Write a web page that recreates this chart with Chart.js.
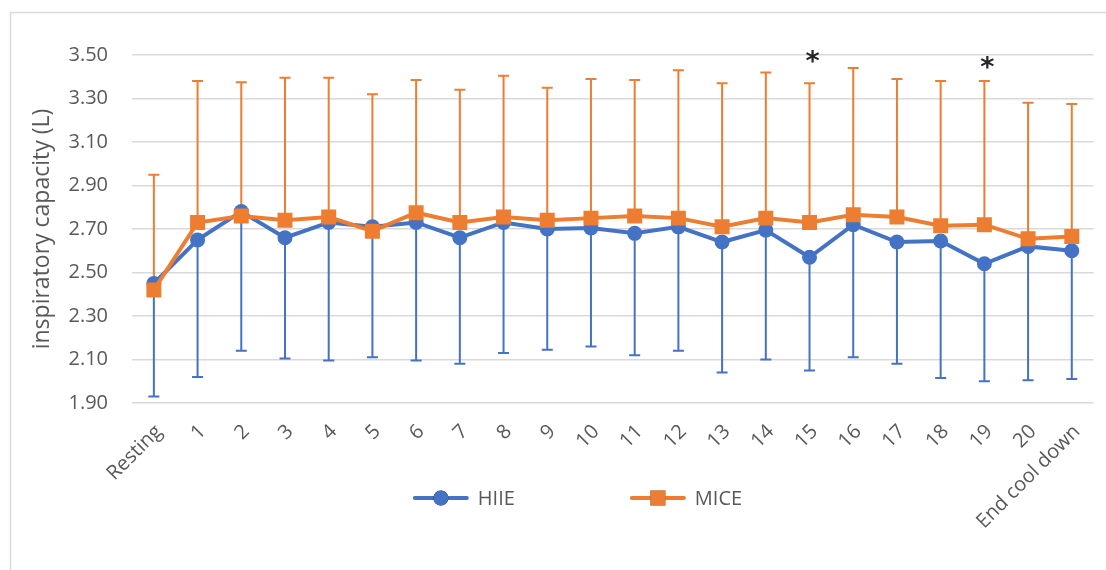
<!DOCTYPE html>
<html>
<head>
<meta charset="utf-8">
<script src="https://cdn.jsdelivr.net/npm/chart.js@4.4.1/dist/chart.umd.min.js"></script>
<style>
  html, body { margin: 0; padding: 0; background: #ffffff; }
  #wrap { width: 1106px; height: 570px; position: relative; }
</style>
</head>
<body>
<div id="wrap"><canvas id="chart" width="1106" height="570"></canvas></div>
<script>
// Time points of the protocol
const categories = ['Resting', '1', '2', '3', '4', '5', '6', '7', '8', '9', '10',
  '11', '12', '13', '14', '15', '16', '17', '18', '19', '20', 'End cool down'];

// HIIE: mean inspiratory capacity (L) and the lower end of its SD bar
const hiieMean  = [2.45, 2.65, 2.78, 2.66, 2.73, 2.71, 2.73, 2.66, 2.73, 2.70, 2.705,
  2.68, 2.71, 2.64, 2.695, 2.57, 2.72, 2.64, 2.645, 2.54, 2.62, 2.60];
const hiieLower = [1.93, 2.02, 2.14, 2.105, 2.095, 2.11, 2.095, 2.08, 2.13, 2.145, 2.16,
  2.12, 2.14, 2.04, 2.10, 2.05, 2.11, 2.08, 2.015, 2.00, 2.005, 2.01];

// MICE: mean inspiratory capacity (L) and the upper end of its SD bar
const miceMean  = [2.42, 2.73, 2.76, 2.74, 2.755, 2.69, 2.775, 2.73, 2.755, 2.74, 2.75,
  2.76, 2.75, 2.71, 2.75, 2.73, 2.765, 2.755, 2.715, 2.72, 2.655, 2.665];
const miceUpper = [2.95, 3.38, 3.375, 3.395, 3.395, 3.32, 3.385, 3.34, 3.405, 3.35, 3.39,
  3.385, 3.43, 3.37, 3.42, 3.37, 3.44, 3.39, 3.38, 3.38, 3.28, 3.275];

// Y axis ticks
const yTickValues = [1.90, 2.10, 2.30, 2.50, 2.70, 2.90, 3.10, 3.30, 3.50];

// Significant differences between groups, with the level each mark sits at
const significantPoints = ['15', '19'];
const significanceLevels = [3.50, 3.475];

const BLUE = '#4472C4';
const ORANGE = '#ED7D31';
const TEXT = '#595959';
const GRID = '#d9d9d9';
const FONT = "'Open Sans', 'Noto Sans', sans-serif";

// White background and the light frame around the chart
const framePlugin = {
  id: 'frame',
  beforeDraw(chart) {
    const ctx = chart.ctx;
    ctx.save();
    ctx.fillStyle = '#ffffff';
    ctx.fillRect(0, 0, chart.width, chart.height);
    ctx.strokeStyle = GRID;
    ctx.lineWidth = 1.5;
    ctx.beginPath();
    ctx.moveTo(10.5, chart.height + 2);
    ctx.lineTo(10.5, 12.5);
    ctx.lineTo(chart.width + 2, 12.5);
    ctx.stroke();
    ctx.restore();
  }
};

// One-sided standard deviation bars with end caps
const errorBarPlugin = {
  id: 'errorBars',
  beforeDatasetsDraw(chart) {
    const ctx = chart.ctx;
    const yScale = chart.scales.y;
    chart.data.datasets.forEach((ds, i) => {
      if (!ds.errorEnds) return;
      const meta = chart.getDatasetMeta(i);
      ctx.save();
      ctx.strokeStyle = ds.borderColor;
      ctx.lineWidth = 2;
      meta.data.forEach((pt, j) => {
        const x = pt.x;
        const y0 = yScale.getPixelForValue(ds.data[j]);
        const y1 = yScale.getPixelForValue(ds.errorEnds[j]);
        ctx.beginPath();
        ctx.moveTo(x, y0);
        ctx.lineTo(x, y1);
        ctx.moveTo(x - 5.5, y1);
        ctx.lineTo(x + 5.5, y1);
        ctx.stroke();
      });
      ctx.restore();
    });
  }
};

// Asterisks marking significant differences
const asteriskPlugin = {
  id: 'asterisks',
  afterDatasetsDraw(chart) {
    const ctx = chart.ctx;
    const xScale = chart.scales.x;
    const yScale = chart.scales.y;
    const size = 27;
    ctx.save();
    ctx.fillStyle = '#262626';
    ctx.font = 'bold ' + size + "px 'DejaVu Sans', sans-serif";
    ctx.textAlign = 'center';
    ctx.textBaseline = 'alphabetic';
    significantPoints.forEach((cat, k) => {
      const x = xScale.getPixelForValue(categories.indexOf(cat)) + 3;
      const y = yScale.getPixelForValue(significanceLevels[k]);
      ctx.fillText('*', x, y + size * 0.57);
    });
    ctx.restore();
  }
};

// Legend: a short line with the series marker, followed by the name
const lineLegendPlugin = {
  id: 'lineLegend',
  afterDraw(chart) {
    const ctx = chart.ctx;
    const opts = chart.options.plugins.lineLegend;
    const fontSize = opts.fontSize;
    ctx.save();
    ctx.font = fontSize + 'px ' + FONT;
    const items = chart.data.datasets.map(ds => ({
      ds, textWidth: ctx.measureText(ds.label).width
    }));
    const itemWidths = items.map(it => opts.lineLength + opts.textGap + it.textWidth);
    const total = itemWidths.reduce((a, b) => a + b, 0) + opts.itemGap * (items.length - 1);
    let x = opts.centerX - total / 2;
    const y = opts.centerY;
    items.forEach((it, k) => {
      const ds = it.ds;
      ctx.strokeStyle = ds.borderColor;
      ctx.lineWidth = ds.borderWidth;
      ctx.lineCap = 'round';
      ctx.beginPath();
      ctx.moveTo(x + 1, y);
      ctx.lineTo(x + opts.lineLength - 1, y);
      ctx.stroke();
      Chart.helpers.drawPoint(ctx, {
        pointStyle: ds.pointStyle,
        radius: ds.pointRadius,
        borderWidth: 0,
        rotation: 0
      }, x + opts.lineLength / 2, y);
      ctx.fillStyle = ds.backgroundColor;
      ctx.fill();
      ctx.fillStyle = TEXT;
      ctx.textAlign = 'left';
      ctx.textBaseline = 'middle';
      ctx.fillText(ds.label, x + opts.lineLength + opts.textGap, y + 1);
      x += itemWidths[k] + opts.itemGap;
    });
    ctx.restore();
  }
};

new Chart(document.getElementById('chart'), {
  type: 'line',
  data: {
    labels: categories,
    datasets: [
      {
        label: 'HIIE',
        data: hiieMean,
        errorEnds: hiieLower,
        borderColor: BLUE,
        backgroundColor: BLUE,
        borderWidth: 4,
        pointStyle: 'circle',
        pointRadius: 7.5,
        pointBorderWidth: 0,
        pointBackgroundColor: BLUE,
        tension: 0,
        order: 2
      },
      {
        label: 'MICE',
        data: miceMean,
        errorEnds: miceUpper,
        borderColor: ORANGE,
        backgroundColor: ORANGE,
        borderWidth: 4,
        pointStyle: 'rect',
        pointRadius: 10.6,
        pointBorderWidth: 0,
        pointBackgroundColor: ORANGE,
        tension: 0,
        order: 1
      }
    ]
  },
  options: {
    responsive: false,
    animation: false,
    devicePixelRatio: 1,
    layout: { padding: { top: 55, left: 10, right: 2, bottom: 0 } },
    plugins: {
      legend: { display: false },
      tooltip: { enabled: false },
      lineLegend: { centerX: 578, centerY: 498, lineLength: 54, textGap: 10, itemGap: 116, fontSize: 20 }
    },
    scales: {
      x: {
        offset: true,
        grid: { display: false, drawTicks: false },
        border: { display: false },
        ticks: {
          color: TEXT,
          font: { family: FONT, size: 20 },
          minRotation: 45,
          maxRotation: 45,
          autoSkip: false,
          padding: 17,
          labelOffset: 5
        },
        afterFit(scale) { scale.height = 167; }
      },
      y: {
        min: 1.9,
        max: 3.5,
        grid: { color: GRID, lineWidth: 1.5, drawTicks: false },
        border: { display: false },
        afterBuildTicks(scale) { scale.ticks = yTickValues.map(v => ({ value: v })); },
        ticks: {
          color: TEXT,
          font: { family: FONT, size: 20 },
          padding: 24,
          callback: v => Number(v).toFixed(2)
        },
        title: {
          display: true,
          text: 'inspiratory capacity (L)',
          color: TEXT,
          font: { family: FONT, size: 23, weight: 'normal' },
          padding: { top: 19, bottom: 0 }
        },
        afterFit(scale) { scale.width = 122; }
      }
    }
  },
  plugins: [framePlugin, errorBarPlugin, asteriskPlugin, lineLegendPlugin]
});
</script>
</body>
</html>
